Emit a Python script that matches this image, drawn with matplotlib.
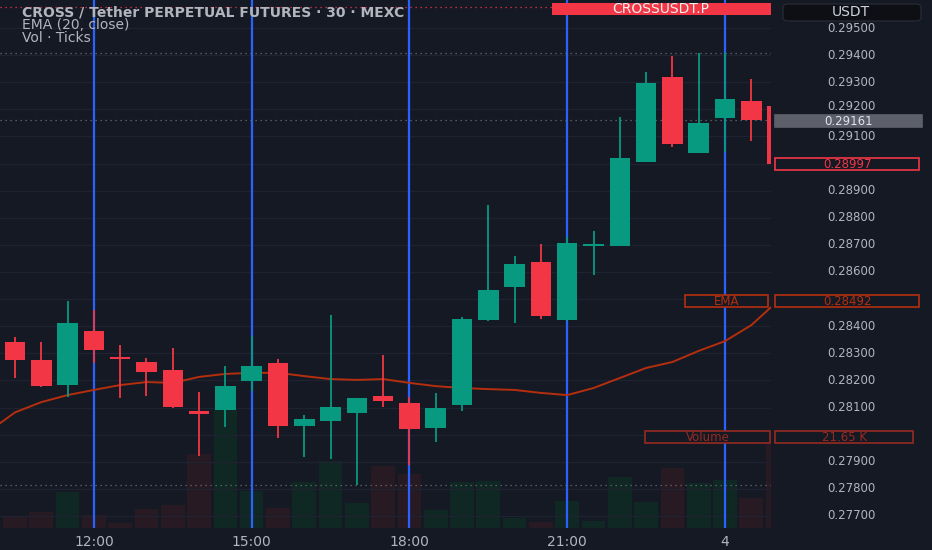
import numpy as np
import matplotlib
matplotlib.use("Agg")
import matplotlib.pyplot as plt
import matplotlib.patches as patches
import matplotlib.transforms as mtransforms

# ---- data (30 min candles, CROSSUSDT.P on MEXC) ----
times = ["10:30", "11:00", "11:30", "12:00", "12:30", "13:00", "13:30", "14:00",
         "14:30", "15:00", "15:30", "16:00", "16:30", "17:00", "17:30", "18:00",
         "18:30", "19:00", "19:30", "20:00", "20:30", "21:00", "21:30", "22:00",
         "22:30", "23:00", "23:30", "00:00", "00:30", "01:00"]
opens = [0.28342, 0.28275, 0.28183, 0.28382, 0.28283, 0.28268, 0.28238, 0.28087,
         0.28091, 0.28198, 0.28264, 0.28032, 0.28050, 0.28080, 0.28143, 0.28117,
         0.28025, 0.28109, 0.28423, 0.28545, 0.28637, 0.28423, 0.28695, 0.28696,
         0.29006, 0.29319, 0.29039, 0.29168, 0.29231, 0.29212]
highs = [0.28360, 0.28342, 0.28493, 0.28460, 0.28331, 0.28283, 0.28320, 0.28157,
         0.28253, 0.28364, 0.28279, 0.28072, 0.28441, 0.28137, 0.28294, 0.28139,
         0.28154, 0.28434, 0.28847, 0.28659, 0.28703, 0.28729, 0.28751, 0.29172,
         0.29338, 0.29397, 0.29408, 0.29408, 0.29312, 0.29212]
lows = [0.28209, 0.28176, 0.28139, 0.28264, 0.28135, 0.28143, 0.28100, 0.27921,
        0.28028, 0.28161, 0.27988, 0.27918, 0.27910, 0.27814, 0.28102, 0.27888,
        0.27973, 0.28087, 0.28420, 0.28412, 0.28427, 0.28420, 0.28589, 0.28696,
        0.29006, 0.29061, 0.29039, 0.29043, 0.29083, 0.28997]
closes = [0.28275, 0.28179, 0.28412, 0.28312, 0.28280, 0.28231, 0.28102, 0.28076,
          0.28179, 0.28253, 0.28032, 0.28058, 0.28102, 0.28135, 0.28124, 0.28021,
          0.28098, 0.28427, 0.28534, 0.28629, 0.28438, 0.28707, 0.28702, 0.29020,
          0.29297, 0.29072, 0.29150, 0.29238, 0.29161, 0.28997]
volumes_k = [3.09, 4.12, 9.28, 3.35, 1.29, 4.90, 5.93, 19.07, 30.4, 9.54, 5.15, 11.86,
             17.27, 6.44, 15.98, 13.92, 4.64, 11.86, 12.11, 2.58, 1.55, 6.96, 1.80,
             13.14, 6.70, 15.46, 11.60, 12.37, 7.73, 21.65]
# EMA(20) starts one bar earlier (10:00) than the first visible candle
ema = [0.28012, 0.28082, 0.28120, 0.28146, 0.28165, 0.28183, 0.28194, 0.28191,
       0.28213, 0.28224, 0.28228, 0.28228, 0.28216, 0.28205, 0.28202, 0.28205,
       0.28191, 0.28179, 0.28172, 0.28168, 0.28165, 0.28154, 0.28146, 0.28172,
       0.28209, 0.28246, 0.28268, 0.28309, 0.28345, 0.28404, 0.28492]
session_ticks = ["12:00", "15:00", "18:00", "21:00", "00:00"]
session_labels = ["12:00", "15:00", "18:00", "21:00", "4"]
price_ticks = [0.295, 0.294, 0.293, 0.292, 0.291, 0.290, 0.289, 0.288, 0.287,
               0.286, 0.285, 0.284, 0.283, 0.282, 0.281, 0.280, 0.279, 0.278, 0.277]
hidden_ticks = [0.290, 0.285, 0.280]   # covered by the price tags
gray_levels = [0.29408, 0.29161, 0.27814]
alert_level = 0.29577
last_price = 0.28997
prev_close = 0.29161

BG = "#151924"
GRID = "#1f2330"
TXT = "#b2b5be"
UP = "#089981"
DOWN = "#f23645"
UP_VOL = "#0f2823"
DOWN_VOL = "#281a23"
EMA_C = "#b52e0e"
VOL_C = "#962a22"
BLUE = "#2962ff"

W, H = 932, 550
fig = plt.figure(figsize=(W / 100, H / 100), dpi=100, facecolor=BG)
plt.rcParams['font.family'] = ['DejaVu Sans']

ax = fig.add_axes([0, 22 / H, 771 / W, 528 / H])
vax = ax.twinx()
ax.set_zorder(2)
vax.set_zorder(1)
ax.patch.set_visible(False)
vax.set_facecolor(BG)

x = np.arange(len(times))
o = np.array(opens)
c = np.array(closes)
up = c >= o

# volume
vax.bar(x, volumes_k, width=0.9, color=[UP_VOL if u else DOWN_VOL for u in up], lw=0)
vax.set_ylim(0, 136.1)
vax.set_yticks([])

# grid + session lines
for p in price_ticks:
    ax.axhline(p, color=GRID, lw=1, zorder=0)
for t in session_ticks:
    ax.axvline(times.index(t), color=BLUE, lw=1.6, zorder=1)
for lv in gray_levels:
    ax.axhline(lv, color="#6a6d78", lw=0.9, ls=(0, (1, 3)), zorder=1)
ax.axhline(alert_level, color=DOWN, lw=0.9, ls=(0, (1, 3)), zorder=1)

# EMA
ax.plot(np.arange(-1, len(times)), ema, color=EMA_C, lw=1.4, zorder=2)

# candles
colors = [UP if u else DOWN for u in up]
ax.vlines(x, lows, highs, colors=colors, lw=1.3, zorder=3)
body = np.maximum(np.abs(c - o), 0.00005)
ax.bar(x, body, bottom=np.minimum(o, c), width=0.78, color=colors, lw=0, zorder=4)

ax.set_xlim(-0.57, 28.75)
ax.set_ylim(0.276557, 0.296033)
for s in list(ax.spines.values()) + list(vax.spines.values()):
    s.set_visible(False)

ax.set_xticks([times.index(t) for t in session_ticks])
ax.set_xticklabels(session_labels)
ax.tick_params(axis='x', length=0, pad=5, labelcolor=TXT, labelsize=10)
ax.set_yticks([])
vax.tick_params(axis='y', length=0)

# price scale labels, drawn by hand so the one above the last-close tag can sit a bit higher
price_tr = mtransforms.blended_transform_factory(fig.transFigure, ax.transData)
for p in price_ticks:
    if p in hidden_ticks:
        continue
    nudge = 2.5 if abs(p - prev_close) < 0.0005 and p > prev_close else 0
    tr = price_tr + mtransforms.ScaledTranslation(0, nudge / 100, fig.dpi_scale_trans)
    fig.text(851 / W, 0, "%.5f" % p, transform=tr, color=TXT, fontsize=8.5,
             ha='center', va='center', zorder=9).set_y(p)


def tag(axis, value, half, x0, x1, text, fc, ec, tc, shift=0, size=8.5):
    tr = mtransforms.blended_transform_factory(fig.transFigure, axis.transData)
    tr = tr + mtransforms.ScaledTranslation(0, shift / 100, fig.dpi_scale_trans)
    rect = patches.Rectangle((x0 / W, value - half), (x1 - x0) / W, 2 * half,
                             transform=tr, facecolor=fc, edgecolor=ec, lw=1.2,
                             clip_on=False, zorder=10)
    fig.add_artist(rect)
    fig.text((x0 + x1) / 2 / W, 0, text, transform=tr, color=tc, fontsize=size,
             ha='center', va='center', zorder=11).set_y(value)


ph = 6.0 / 27110
tag(ax, prev_close, ph, 775, 922, "%.5f" % prev_close, "#5d606b", "#5d606b", "#e0e3eb",
    shift=-1.5)
tag(ax, last_price, ph, 775, 919, "%.5f" % last_price, BG, DOWN, DOWN)
tag(ax, ema[-1], ph, 685, 768, "EMA", BG, EMA_C, EMA_C)
tag(ax, ema[-1], ph, 775, 919, "%.5f" % ema[-1], BG, EMA_C, EMA_C)
vh = 6.0 * 136.1 / 528
tag(vax, volumes_k[-1], vh, 645, 770, "Volume", BG, VOL_C, VOL_C, shift=7)
tag(vax, volumes_k[-1], vh, 775, 913, "%.2f K" % volumes_k[-1], BG, VOL_C, VOL_C, shift=7)

# top labels
fig.add_artist(patches.Rectangle((552 / W, 1 - 15 / H), 219 / W, 12 / H,
                                 transform=fig.transFigure, facecolor=DOWN, lw=0, zorder=10))
fig.text(661 / W, 1 - 9 / H, "CROSSUSDT.P", color="#f0f0f0", fontsize=10,
         ha='center', va='center', zorder=11)
fig.add_artist(patches.FancyBboxPatch((783 / W, 1 - 21 / H), 138 / W, 17 / H,
                                      boxstyle="round,pad=0,rounding_size=0.006",
                                      transform=fig.transFigure, facecolor="#0d0f15",
                                      edgecolor="#2a2e39", lw=0.8, zorder=10))
fig.text(851 / W, 1 - 12 / H, "USDT", color="#d1d4dc", fontsize=10,
         ha='center', va='center', zorder=11)

fig.text(22 / W, 1 - 12 / H, "CROSS / Tether PERPETUAL FUTURES · 30 · MEXC",
         color=TXT, fontsize=10, fontweight='bold', ha='left', va='center', zorder=12)
fig.text(22 / W, 1 - 25 / H, "EMA (20, close)", color=TXT, fontsize=10,
         ha='left', va='center', zorder=12)
fig.text(22 / W, 1 - 38 / H, "Vol · Ticks", color=TXT, fontsize=10,
         ha='left', va='center', zorder=12)

fig.savefig("out.png", dpi=100, facecolor=BG)
